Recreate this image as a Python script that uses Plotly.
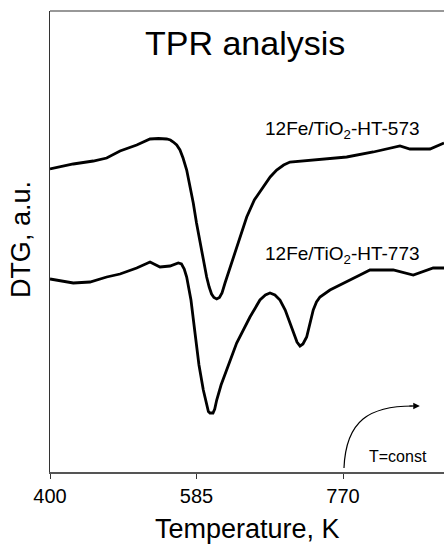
import plotly.graph_objects as go

# Temperature (K) and DTG signal (a.u.) for the two heat-treated samples
temp_573 = [400.0, 429.4, 454.7, 471.6, 488.4, 509.5, 526.3, 537.0, 547.3, 552.0,
            555.7, 560.0, 564.1, 568.0, 572.6, 576.5, 580.9, 585.0, 589.4, 593.6,
            597.8, 601.0, 604.0, 607.0, 610.5, 614.0, 617.2, 621.0, 627.3, 632.0,
            637.7, 648.4, 658.0, 669.3, 678.0, 686.2, 695.0, 703.0, 715.7, 740.9,
            774.6, 808.2, 829.3, 841.9, 854.5, 879.8, 897.5]
dtg_573 = [3.03, 3.08, 3.11, 3.14, 3.21, 3.27, 3.33, 3.335, 3.33, 3.32,
           3.30, 3.27, 3.22, 3.14, 3.02, 2.87, 2.69, 2.49, 2.29, 2.11,
           1.95, 1.85, 1.78, 1.745, 1.73, 1.745, 1.79, 1.89, 2.04, 2.16,
           2.29, 2.55, 2.72, 2.85, 2.95, 3.02, 3.07, 3.10, 3.11, 3.13,
           3.15, 3.20, 3.24, 3.26, 3.23, 3.23, 3.29]

temp_773 = [400.0, 429.4, 450.5, 471.6, 488.4, 509.5, 526.3, 538.9, 551.5, 562.0,
            566.0, 569.5, 572.6, 575.5, 578.0, 583.1, 588.1, 593.6, 598.2, 600.0,
            602.0, 605.8, 608.0, 610.5, 616.0, 623.1, 635.7, 652.5, 665.1, 672.0,
            677.8, 684.0, 690.4, 697.0, 703.0, 708.0, 711.9, 715.7, 719.4, 724.1,
            728.0, 732.4, 736.5, 740.9, 753.5, 770.3, 791.4, 804.0, 833.4, 858.7,
            883.9, 897.5]
dtg_773 = [1.93, 1.89, 1.90, 1.95, 1.98, 2.04, 2.10, 2.05, 2.06, 2.09,
           2.08, 2.03, 1.95, 1.84, 1.72, 1.39, 1.07, 0.82, 0.64, 0.605,
           0.59, 0.59, 0.63, 0.72, 0.87, 1.02, 1.29, 1.55, 1.72, 1.77,
           1.79, 1.77, 1.72, 1.62, 1.49, 1.38, 1.30, 1.26, 1.28, 1.35,
           1.48, 1.62, 1.70, 1.75, 1.82, 1.89, 1.97, 2.02, 2.02, 1.97,
           2.04, 2.04]

x_ticks = [400, 585, 770]
x_range = [400, 897.5]
y_range = [0, 4.61]

FONT = "Arial, Liberation Sans, sans-serif"

fig = go.Figure()
for xs, ys in [(temp_573, dtg_573), (temp_773, dtg_773)]:
    fig.add_trace(go.Scatter(x=xs, y=ys, mode="lines",
                             line=dict(color="black", width=2.8, shape="linear"),
                             showlegend=False, hoverinfo="skip"))

# curve labels
fig.add_annotation(x=668.9, y=3.42, xref="x", yref="y", xanchor="left", yanchor="middle",
                   text="12Fe/TiO<sub>2</sub>-HT-573", showarrow=False,
                   font=dict(family=FONT, size=19, color="black"))
fig.add_annotation(x=668.9, y=2.17, xref="x", yref="y", xanchor="left", yanchor="middle",
                   text="12Fe/TiO<sub>2</sub>-HT-773", showarrow=False,
                   font=dict(family=FONT, size=19, color="black"))

# isothermal hold marker: curved arrow rising from the 770 K tick
fig.add_shape(type="path", xref="x", yref="y",
              path="M 771.2,0.04 C 773.7,0.52 804.0,0.66 858.0,0.66",
              line=dict(color="black", width=1.2))
fig.add_annotation(x=867.0, y=0.66, xref="x", yref="y", ax=-12, ay=0,
                   showarrow=True, arrowhead=2, arrowsize=1.1, arrowwidth=1.2,
                   arrowcolor="black", text="")
fig.add_annotation(x=800.2, y=0.16, xref="x", yref="y", xanchor="left", yanchor="middle",
                   text="T=const", showarrow=False,
                   font=dict(family=FONT, size=16, color="black"))

# chart title inside plot
fig.add_annotation(x=0.495, y=0.931, xref="paper", yref="paper", xanchor="center", yanchor="middle",
                   text="TPR analysis", showarrow=False,
                   font=dict(family=FONT, size=34, color="black"))

# axis titles
fig.add_annotation(x=0.5, y=-0.124, xref="paper", yref="paper", xanchor="center", yanchor="middle",
                   text="Temperature, K", showarrow=False,
                   font=dict(family=FONT, size=27, color="black"))
fig.add_annotation(x=0, y=0.503, xref="paper", yref="paper", xshift=-29,
                   xanchor="center", yanchor="middle", textangle=-90,
                   text="DTG, a.u.", showarrow=False,
                   font=dict(family=FONT, size=27, color="black"))

# top frame line
fig.add_shape(type="line", xref="paper", yref="paper", x0=0, x1=1, y0=1, y1=1,
              line=dict(color="#333333", width=1.2))

fig.update_layout(
    width=444, height=544,
    margin=dict(l=50, r=0, t=11, b=72),
    paper_bgcolor="white", plot_bgcolor="white",
    xaxis=dict(range=x_range, tickvals=x_ticks, ticktext=[str(v) for v in x_ticks],
               showgrid=False, zeroline=False, showline=True, linecolor="#555555", linewidth=1.5,
               ticks="outside", ticklen=5, tickwidth=1.2, tickcolor="#333333",
               tickfont=dict(family=FONT, size=20, color="black")),
    yaxis=dict(range=y_range, showgrid=False, zeroline=False, showticklabels=False,
               showline=True, linecolor="#333333", linewidth=1.2, ticks=""),
)

fig.write_html("out.html")
